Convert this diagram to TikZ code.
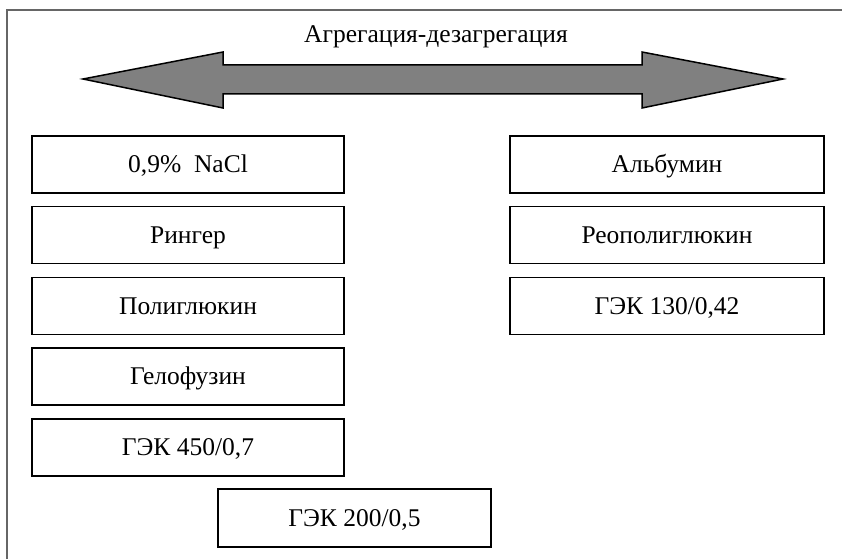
\documentclass[tikz,border=0pt]{standalone}
\usepackage{fontspec}
\setmainfont{Liberation Serif}
\begin{document}
\begin{tikzpicture}[x=1pt,y=-1pt,
  txt/.style={inner sep=0pt,font=\fontsize{25.5}{30}\selectfont,text height=16.5pt,text depth=0pt},
  box/.style={txt,draw=black,line width=1.8pt,fill=white,minimum height=57pt},
  lbox/.style={box,minimum width=312pt},
  rbox/.style={box,minimum width=314pt}]
\useasboundingbox[fill=white] (0,0) rectangle (842,559);
\draw[black!60,line width=1.5pt] (7,559) -- (7,10) -- (842,10);
\node[txt] (t) at (436,34.5) {Агрегация-дезагрегация};
\draw[fill=black!50,line width=1.5pt,line join=miter]
  (83,79) -- (223,52) -- (223,65) -- (642,65) -- (642,52) -- (783,79)
  -- (642,108) -- (642,94) -- (223,94) -- (223,108) -- cycle;
\node[lbox] (l1) at (188,164.5) {0,9\%\ \ NaCl};
\node[lbox] (l2) at (188,235) {Рингер};
\node[lbox] (l3) at (188,306) {Полиглюкин};
\node[lbox] (l4) at (188,376.5) {Гелофузин};
\node[lbox] (l5) at (188,447.5) {ГЭК 450/0,7};
\node[rbox] (r1) at (667,164.5) {Альбумин};
\node[rbox] (r2) at (667,235) {Реополиглюкин};
\node[rbox] (r3) at (667,306) {ГЭК 130/0,42};
\node[box,minimum width=273pt,minimum height=58pt] (b) at (354.5,518) {ГЭК 200/0,5};
\end{tikzpicture}
\end{document}
